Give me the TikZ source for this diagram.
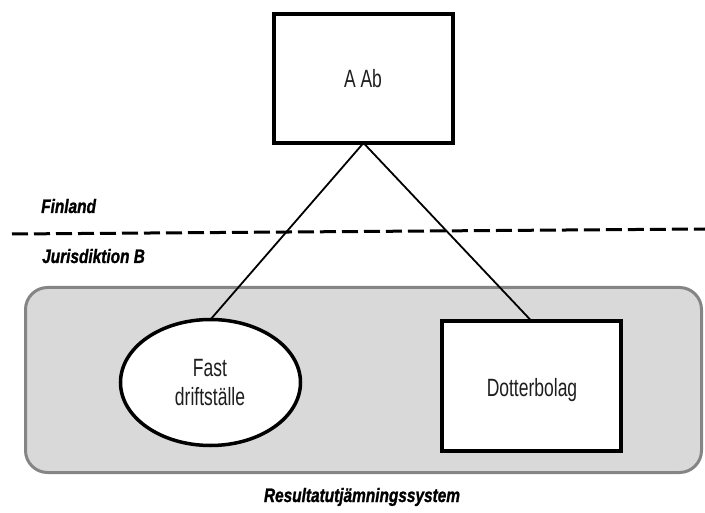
\documentclass[tikz,border=0pt]{standalone}
\usepackage{fontspec}
\setmainfont{Liberation Sans}
\newfontfamily\boxfont{Liberation Sans}[FakeStretch=0.7]
\newfontfamily\tagfont{Liberation Sans}[FakeStretch=0.79, FakeBold=1.2]
\usetikzlibrary{shapes.geometric}
\definecolor{regionfill}{HTML}{D9D9D9}
\definecolor{regionline}{HTML}{858585}
\definecolor{inktext}{HTML}{1E1E1E}
\tikzset{
  entitybox/.style={draw=black, fill=white, line width=4pt, rectangle,
    minimum width=179pt, inner sep=0pt, outer sep=0pt},
  branchshape/.style={draw=black, fill=white, line width=3.5pt, ellipse,
    minimum width=180pt, minimum height=126pt, inner sep=0pt, outer sep=0pt},
  region/.style={draw=regionline, fill=regionfill, line width=3pt, rounded corners=22pt},
  link/.style={draw=black, line width=1.8pt},
  border/.style={draw=black, line width=3pt, dash pattern=on 16pt off 6pt},
  boxtext/.style={text=inktext, font=\boxfont\fontsize{25}{30}\selectfont, anchor=base, inner sep=0pt},
  tagtext/.style={text=black, font=\tagfont\bfseries\itshape\fontsize{19.5}{23}\selectfont, inner sep=0pt}
}
\begin{document}
\begin{tikzpicture}[x=1pt, y=-1pt]
  \useasboundingbox (0,0) rectangle (705,513);

  % shared result-equalisation zone
  \draw[region] (25.5,287.5) rectangle (701.5,472.5);

  % jurisdiction border
  \coordinate (bl) at (12,234);
  \coordinate (br) at (705,229);
  \draw[border] (bl) -- (br);

  % entities
  \node[entitybox, minimum height=129pt] (parent) at (363.5,78.5) {};
  \node[branchshape] (branch) at (210.5,382.5) {};
  \node[entitybox, minimum height=130pt] (sub) at (531.5,386) {};

  % ownership links
  \draw[link] (parent.south) -- (branch.north);
  \draw[link] (parent.south) -- (sub.north);

  % texts
  \node[boxtext] (parenttxt) at (363,88) {A Ab};
  \node[boxtext] (branchtxt1) at (210,377) {Fast};
  \node[boxtext] (branchtxt2) at (210,406) {driftställe};
  \node[boxtext] (subtxt) at (532,396) {Dotterbolag};

  \node[tagtext, anchor=base west] (fi) at (41,213) {Finland};
  \node[tagtext, anchor=base west] (jb) at (42,263) {Jurisdiktion B};
  \node[tagtext, anchor=base] (rs) at (362,502) {Resultatutjämningssystem};
\end{tikzpicture}
\end{document}
